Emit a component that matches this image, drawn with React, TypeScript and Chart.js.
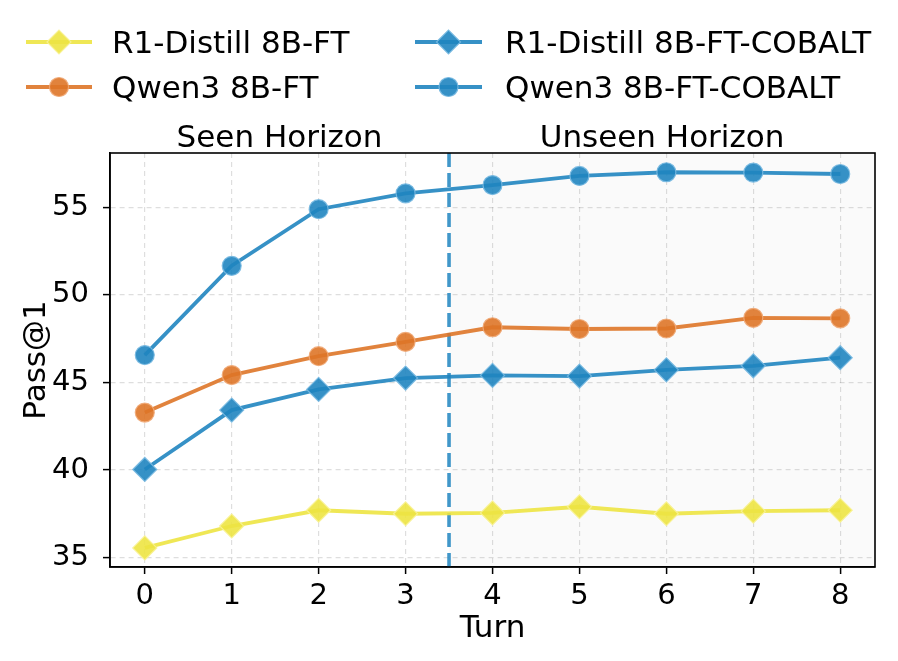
import React, { useEffect, useRef } from "react";
import { Chart, registerables } from "chart.js";

Chart.register(...registerables);

const TURNS = [0, 1, 2, 3, 4, 5, 6, 7, 8];
const Y_TICKS = [35, 40, 45, 50, 55];
const R1_FT = [35.55, 36.8, 37.7, 37.5, 37.55, 37.9, 37.5, 37.65, 37.7];
const QWEN_FT = [43.28, 45.42, 46.5, 47.32, 48.15, 48.05, 48.08, 48.69, 48.66];
const R1_COBALT = [40.03, 43.42, 44.6, 45.25, 45.4, 45.36, 45.72, 45.95, 46.41];
const QWEN_COBALT = [46.56, 51.66, 54.89, 55.8, 56.27, 56.79, 57.0, 56.98, 56.9];
const SERIES_NAMES = [
  "R1-Distill 8B-FT",
  "Qwen3 8B-FT",
  "R1-Distill 8B-FT-COBALT",
  "Qwen3 8B-FT-COBALT",
];
const SPLIT_TURN = 3.5;
const REGION_LABELS = ["Seen Horizon", "Unseen Horizon"];

const FONT = "'DejaVu Sans', 'Liberation Sans', sans-serif";
const YELLOW = "rgba(237,228,66,0.9)";
const ORANGE = "rgba(222,118,40,0.9)";
const BLUE = "rgba(32,133,192,0.9)";
const YELLOW_EDGE = "rgba(248,242,150,0.9)";
const ORANGE_EDGE = "rgba(240,170,120,0.9)";
const BLUE_EDGE = "rgba(120,185,225,0.9)";

function drawMarker(ctx: CanvasRenderingContext2D, style: string, x: number, y: number, r: number, fill: string, edge: string) {
  ctx.save();
  ctx.beginPath();
  if (style === "circle") {
    ctx.arc(x, y, r, 0, Math.PI * 2);
  } else {
    ctx.moveTo(x - r, y);
    ctx.lineTo(x, y - r);
    ctx.lineTo(x + r, y);
    ctx.lineTo(x, y + r);
    ctx.closePath();
  }
  ctx.fillStyle = fill;
  ctx.fill();
  ctx.lineWidth = 1.2;
  ctx.strokeStyle = edge;
  ctx.stroke();
  ctx.restore();
}

export default function App() {
  const canvasRef = useRef<HTMLCanvasElement | null>(null);

  useEffect(() => {
    document.body.style.margin = "0";
    const canvas = canvasRef.current;
    if (!canvas) return;

    const mk = (vals: number[]) => TURNS.map((t, i) => ({ x: t, y: vals[i] }));

    const datasets: any[] = [
      { label: SERIES_NAMES[0], data: mk(R1_FT), borderColor: YELLOW, backgroundColor: YELLOW, pointBackgroundColor: YELLOW, pointBorderColor: YELLOW_EDGE, pointStyle: "rectRot", pointRadius: 12 },
      { label: SERIES_NAMES[1], data: mk(QWEN_FT), borderColor: ORANGE, backgroundColor: ORANGE, pointBackgroundColor: ORANGE, pointBorderColor: ORANGE_EDGE, pointStyle: "circle", pointRadius: 9.5 },
      { label: SERIES_NAMES[2], data: mk(R1_COBALT), borderColor: BLUE, backgroundColor: BLUE, pointBackgroundColor: BLUE, pointBorderColor: BLUE_EDGE, pointStyle: "rectRot", pointRadius: 12 },
      { label: SERIES_NAMES[3], data: mk(QWEN_COBALT), borderColor: BLUE, backgroundColor: BLUE, pointBackgroundColor: BLUE, pointBorderColor: BLUE_EDGE, pointStyle: "circle", pointRadius: 9.5 },
    ].map((d) => ({ ...d, borderWidth: 3.8, pointBorderWidth: 1.2, tension: 0, fill: false }));

    const decor = {
      id: "decor",
      beforeDatasetsDraw(chart: any) {
        const { ctx, chartArea } = chart;
        const xs = chart.scales.x;
        const xm = xs.getPixelForValue(SPLIT_TURN);
        ctx.save();
        ctx.fillStyle = "rgba(0,0,0,0.02)";
        ctx.fillRect(xm, chartArea.top, chartArea.right - xm, chartArea.bottom - chartArea.top);
        ctx.beginPath();
        ctx.setLineDash([14, 6]);
        ctx.lineWidth = 3.6;
        ctx.strokeStyle = "rgba(32,133,192,0.85)";
        ctx.moveTo(xm, chartArea.top);
        ctx.lineTo(xm, chartArea.bottom);
        ctx.stroke();
        ctx.restore();
      },
      afterDraw(chart: any) {
        const { ctx, chartArea } = chart;
        const xs = chart.scales.x;
        const xm = xs.getPixelForValue(SPLIT_TURN);
        ctx.save();
        ctx.strokeStyle = "#000";
        ctx.lineWidth = 1.6;
        ctx.strokeRect(chartArea.left, chartArea.top, chartArea.right - chartArea.left, chartArea.bottom - chartArea.top);
        ctx.fillStyle = "#000";
        ctx.font = `31px ${FONT}`;
        ctx.textAlign = "center";
        ctx.textBaseline = "alphabetic";
        ctx.fillText(REGION_LABELS[0], (chartArea.left + xm) / 2, 147);
        ctx.fillText(REGION_LABELS[1], (xm + chartArea.right) / 2, 147);
        const cols = [
          { x0: 26, x1: 92, tx: 112 },
          { x0: 415, x1: 482, tx: 505 },
        ];
        const rows = [42, 87];
        datasets.forEach((d, i) => {
          const col = cols[Math.floor(i / 2)];
          const y = rows[i % 2];
          ctx.save();
          ctx.beginPath();
          ctx.strokeStyle = d.borderColor;
          ctx.lineWidth = 3.8;
          ctx.moveTo(col.x0, y);
          ctx.lineTo(col.x1, y);
          ctx.stroke();
          ctx.restore();
          drawMarker(ctx, d.pointStyle === "circle" ? "circle" : "diamond", (col.x0 + col.x1) / 2, y, d.pointRadius, d.pointBackgroundColor, d.pointBorderColor);
          ctx.fillStyle = "#000";
          ctx.font = `31px ${FONT}`;
          ctx.textAlign = "left";
          ctx.textBaseline = "alphabetic";
          ctx.fillText(d.label, col.tx, y + 11);
        });
        ctx.restore();
      },
    };

    const gridOpts: any = { color: "rgba(0,0,0,0.13)", lineWidth: 1.2, tickColor: "#000", tickLength: 7, tickWidth: 1.5, tickBorderDash: [] };
    const borderOpts: any = { display: true, color: "#000", width: 1.6, dash: [5, 4] };

    const chart = new Chart(canvas, {
      type: "line",
      data: { datasets },
      options: {
        animation: false,
        responsive: false,
        maintainAspectRatio: false,
        layout: { padding: { left: 0, right: 23, top: 153, bottom: 0 } },
        plugins: { legend: { display: false }, tooltip: { enabled: false } },
        scales: {
          x: {
            type: "linear",
            min: -0.4,
            max: 8.4,
            afterBuildTicks: (s: any) => {
              s.ticks = TURNS.map((v) => ({ value: v }));
            },
            afterFit: (s: any) => {
              s.height = 94;
            },
            ticks: { color: "#000", font: { family: FONT, size: 29 }, padding: 5, autoSkip: false, maxRotation: 0, callback: (v: any) => String(v) },
            grid: gridOpts,
            border: borderOpts,
            title: { display: true, text: "Turn", color: "#000", font: { family: FONT, size: 31 }, padding: { top: 0, bottom: 13 } },
          },
          y: {
            type: "linear",
            min: 34.46,
            max: 58.1,
            afterBuildTicks: (s: any) => {
              s.ticks = Y_TICKS.map((v) => ({ value: v }));
            },
            afterFit: (s: any) => {
              s.width = 110;
            },
            ticks: { color: "#000", font: { family: FONT, size: 29 }, padding: 14, callback: (v: any) => String(v) },
            grid: gridOpts,
            border: borderOpts,
            title: { display: true, text: "Pass@1", color: "#000", font: { family: FONT, size: 31 }, padding: { top: 18, bottom: 0 } },
          },
        },
      },
      plugins: [decor],
    } as any);

    return () => chart.destroy();
  }, []);

  return (
    <div style={{ width: 898, height: 661, position: "relative" }}>
      <canvas ref={canvasRef} width={898} height={661} style={{ width: 898, height: 661, display: "block" }} />
    </div>
  );
}
